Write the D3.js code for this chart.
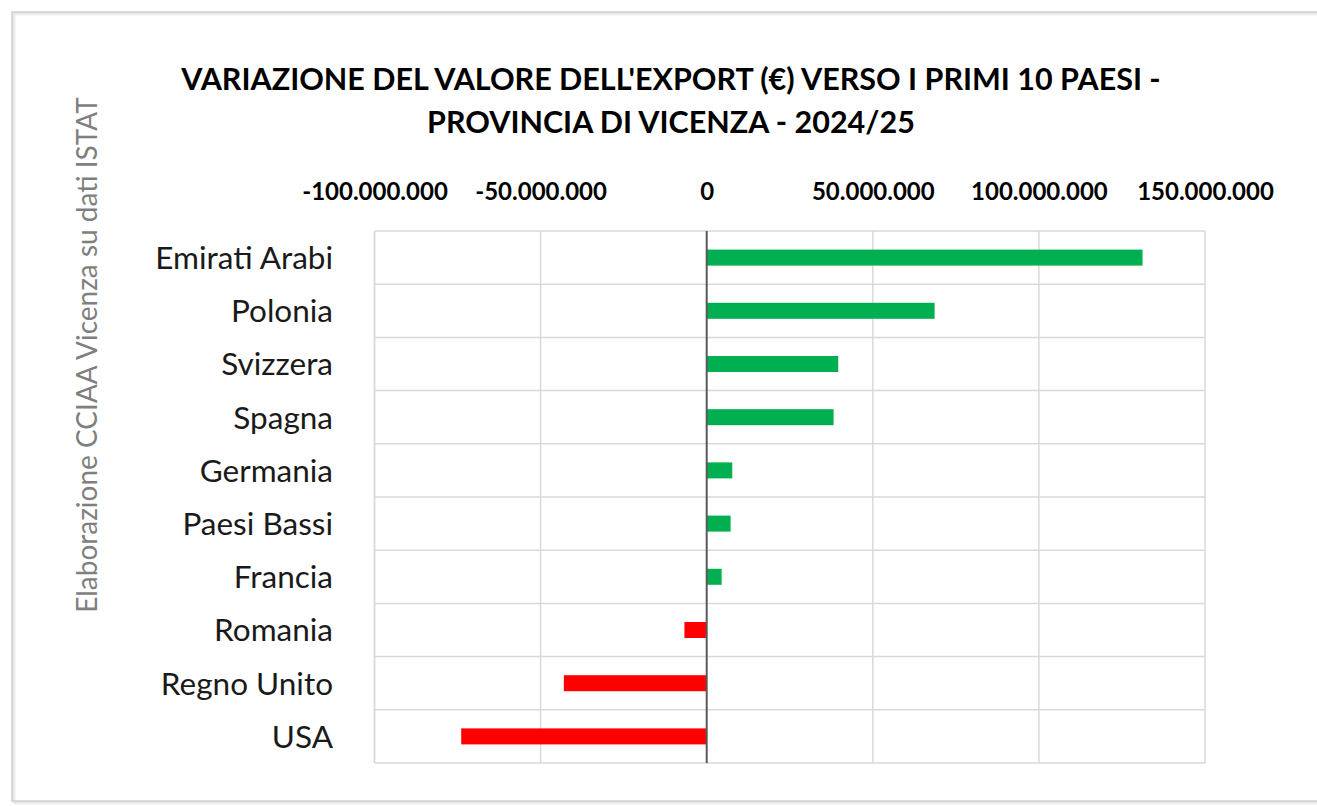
<!DOCTYPE html>
<html>
<head>
<meta charset="utf-8">
<script src="https://cdn.jsdelivr.net/npm/d3@7"></script>
<style>
  body { margin: 0; background: #ffffff; overflow: hidden; }
  svg { display: block; }
</style>
</head>
<body>
<script>
// #region DATA
var countries = ["Emirati Arabi", "Polonia", "Svizzera", "Spagna", "Germania",
                 "Paesi Bassi", "Francia", "Romania", "Regno Unito", "USA"];
var variations = [131200000, 68600000, 39600000, 38200000, 7700000,
                  7200000, 4500000, -6700000, -43000000, -73900000];
var tickValues = [-100000000, -50000000, 0, 50000000, 100000000, 150000000];
var titleLines = ["VARIAZIONE DEL VALORE DELL'EXPORT (€) VERSO I PRIMI 10 PAESI -",
                  "PROVINCIA DI VICENZA - 2024/25"];
var sourceNote = "Elaborazione CCIAA Vicenza su dati ISTAT";
// #endregion

// #region SETUP
var width = 1317, height = 806;
var plotLeft = 374.5, plotRight = 1205, plotTop = 231, plotBottom = 763;

var svg = d3.select("body")
  .append("svg")
  .attr("width", width)
  .attr("height", height)
  .style("font-family", "Lato, 'Open Sans', sans-serif");

// chart frame (open on the right: it runs off the picture)
// soft shadow made of a few offset strokes
var frame = svg.append("g").attr("id", "frame");
[[3, "#f4f4f4"], [2, "#ececec"], [1, "#e2e2e2"], [0, "#cfcfcf"]].forEach(function(s) {
    frame.append("path")
        .attr("d", "M" + (width + 10) + "," + (12 + s[0]) + " H" + (12 + s[0]) +
                   " V" + (801 + s[0]) + " H" + (width + 10))
        .attr("fill", "none")
        .attr("stroke", s[1])
        .attr("stroke-width", 1.5);
});
// #endregion

// #region SCALES
var x = d3.scaleLinear()
    .domain([-100000000, 150000000])
    .range([plotLeft, plotRight]);

var rows = d3.scaleBand()
    .domain(countries)
    .range([plotTop, plotBottom])
    .padding(0);

var barHeight = 16;

var itLocale = d3.formatLocale({
    decimal: ",",
    thousands: ".",
    grouping: [3],
    currency: ["€", ""],
    minus: "-"
});
var fmt = itLocale.format(",d");
// #endregion

// #region GRID
var grid = svg.append("g").attr("id", "grid");

grid.selectAll("line.v")
    .data(tickValues.filter(d => d != 0))
    .enter()
    .append("line")
    .attr("class", "v")
    .attr("x1", d => x(d))
    .attr("x2", d => x(d))
    .attr("y1", plotTop)
    .attr("y2", plotBottom)
    .attr("stroke", "#d9d9d9")
    .attr("stroke-width", 1.5);

// left border of plot + row separators
grid.append("line")
    .attr("x1", plotLeft).attr("x2", plotLeft)
    .attr("y1", plotTop).attr("y2", plotBottom)
    .attr("stroke", "#d9d9d9")
    .attr("stroke-width", 1.5);

var rowEdges = countries.map(c => rows(c)).concat([plotBottom]);
grid.selectAll("line.h")
    .data(rowEdges)
    .enter()
    .append("line")
    .attr("class", "h")
    .attr("x1", plotLeft)
    .attr("x2", plotRight)
    .attr("y1", d => d)
    .attr("y2", d => d)
    .attr("stroke", "#d9d9d9")
    .attr("stroke-width", 1.5);
// #endregion

// #region BARS
svg.append("g")
    .attr("id", "bars")
    .selectAll("rect")
    .data(countries)
    .enter()
    .append("rect")
    .attr("x", (d, i) => Math.min(x(0), x(variations[i])))
    .attr("y", d => rows(d) + (rows.bandwidth() - barHeight) / 2)
    .attr("width", (d, i) => Math.abs(x(variations[i]) - x(0)))
    .attr("height", barHeight)
    .attr("fill", (d, i) => variations[i] >= 0 ? "#00b050" : "#ff0000");

// zero line
svg.append("line")
    .attr("x1", x(0)).attr("x2", x(0))
    .attr("y1", plotTop).attr("y2", plotBottom)
    .attr("stroke", "#595959")
    .attr("stroke-width", 2);
// #endregion

// #region AXES
var xAxis = svg.append("g")
    .attr("transform", "translate(0," + 203 + ")")
    .call(d3.axisTop(x).tickValues(tickValues).tickFormat(fmt).tickSize(0));
xAxis.select(".domain").remove();
xAxis.selectAll("text")
    .attr("font-family", "Lato, 'Open Sans', sans-serif")
    .attr("font-size", "24px")
    .attr("font-weight", "bold")
    .attr("fill", "#000000");

svg.append("g")
    .attr("id", "y-labels")
    .selectAll("text")
    .data(countries)
    .enter()
    .append("text")
    .text(d => d)
    .attr("x", 333)
    .attr("y", d => rows(d) + rows.bandwidth() / 2)
    .attr("dy", "0.36em")
    .attr("text-anchor", "end")
    .attr("font-size", "31.5px")
    .attr("fill", "#1a1a1a");
// #endregion

// #region TITLE + NOTE
svg.append("g")
    .attr("id", "title")
    .selectAll("text")
    .data(titleLines)
    .enter()
    .append("text")
    .text(d => d)
    .attr("x", 671)
    .attr("y", (d, i) => 90 + i * 43)
    .attr("text-anchor", "middle")
    .attr("font-size", "30.5px")
    .attr("font-weight", "bold")
    .attr("fill", "#000000");

svg.append("text")
    .text(sourceNote)
    .attr("transform", "translate(97,355) rotate(-90)")
    .attr("text-anchor", "middle")
    .attr("font-size", "28px")
    .attr("fill", "#7f7f7f");
// #endregion
</script>
</body>
</html>
